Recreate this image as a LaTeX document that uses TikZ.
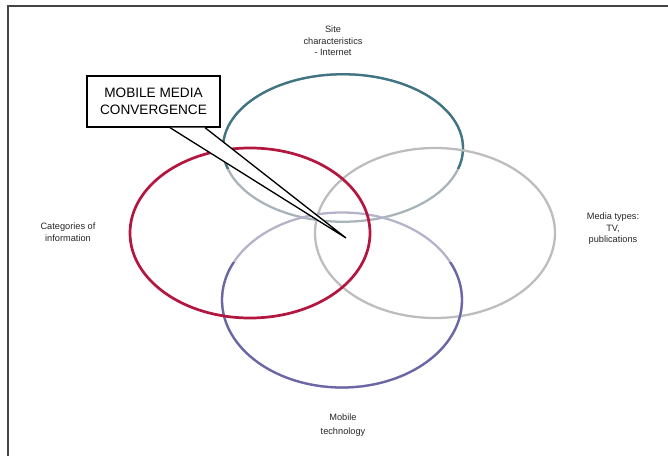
\documentclass[tikz,border=0pt]{standalone}
\usepackage{fontspec}
\setmainfont{Liberation Sans}
\usepackage{tikz}
\usetikzlibrary{shapes.geometric,calc}
\definecolor{mmcteal}{HTML}{3F7482}
\definecolor{mmctealpale}{HTML}{A9B3BA}
\definecolor{mmcred}{HTML}{B3173F}
\definecolor{mmcgrey}{HTML}{BDBDBD}
\definecolor{mmcpurple}{HTML}{6B67A6}
\definecolor{mmcpurplepale}{HTML}{B4B3C9}
\definecolor{mmcframe}{HTML}{454545}

\begin{document}
\begin{tikzpicture}[x=0.4mm,y=-0.4mm,every node/.style={font=\fontsize{10.5}{13}\selectfont,align=center,text=black!85}]
\tikzset{ring/.style={ellipse,draw,inner sep=0pt,minimum width=96mm,minimum height=68mm,line width=2.6pt},
  tag/.style={inner sep=1pt}}
\useasboundingbox (0,0) rectangle (668,456);
\draw[mmcframe,line width=1.6pt] (8,456)--(8,6)--(668,6);
% the four circles (pale lower/upper parts first)
\node[ring,draw=mmctealpale,minimum height=59mm] (sitepale) at (343,148) {};
\begin{scope}
  \clip (150,60) rectangle (480,168);
  \node[ring,draw=mmcteal,minimum height=59mm] (site) at (343,148) {};
\end{scope}
\node[ring,draw=mmcgrey] (media) at (435,233) {};
\node[ring,draw=mmcpurplepale,minimum height=70mm] (mobilepale) at (342,300) {};
\begin{scope}
  \clip (150,262) rectangle (480,400);
  \node[ring,draw=mmcpurple,minimum height=70mm] (mobile) at (342,300) {};
\end{scope}
\node[ring,draw=mmcred,line width=3.1pt] (cat) at (250,233) {};
% labels
\node[tag] (lsite) at (333,41) {Site\\characteristics\\- Internet};
\node[tag] (lcat) at (68,232) {Categories of\\information};
\node[tag] (lmedia) at (613,229) {Media types:\\TV,\\publications};
\node[tag,font=\fontsize{10.5}{16}\selectfont] (lmobile) at (343,425) {Mobile\\technology};
% callout
\node[draw=black,line width=1.5pt,fill=white,minimum width=53.2mm,minimum height=20.4mm,text=black,
  font=\fontsize{15.5}{19}\selectfont] (conv) at (153.5,101.5) {MOBILE MEDIA\\CONVERGENCE};
\coordinate (tip) at (346,238);
\fill[white] ($(conv.south)+(16.5,0)$)--(tip)--($(conv.south)+(51.5,0)$)--cycle;
\draw[line width=1.5pt] ($(conv.south)+(16.5,0)$)--(tip)--($(conv.south)+(51.5,0)$);
\end{tikzpicture}
\end{document}
